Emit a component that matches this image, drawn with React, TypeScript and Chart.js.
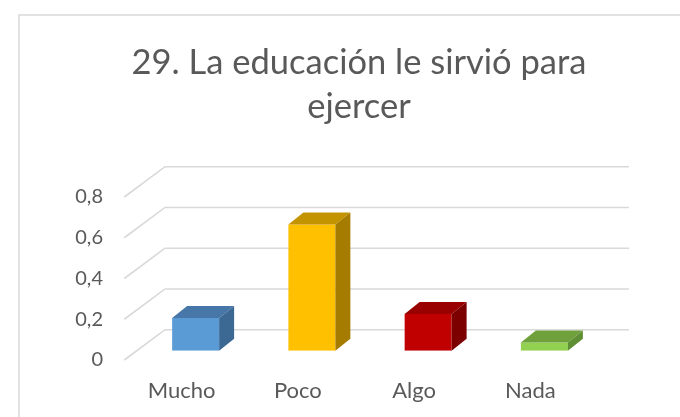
import React, { useEffect, useRef } from "react";
import { Chart, registerables } from "chart.js";

Chart.register(...registerables);

const titleLines = ["29. La educación le sirvió para", "ejercer"];
const categories = ["Mucho", "Poco", "Algo", "Nada"];
const values = [0.16, 0.62, 0.18, 0.04];
const yTicks = { min: 0, max: 0.8, step: 0.2 };
const frontColors = ["#5b9bd5", "#ffc000", "#c00000", "#92d050"];
const topColors = ["#4677a8", "#c49300", "#990000", "#70a03c"];
const sideColors = ["#3c6894", "#a67c00", "#7c0000", "#5f8f34"];

const DX = 15;
const DY = 12;

const borderPlugin = {
  id: "frameBorder",
  beforeDraw(chart: any) {
    const ctx = chart.ctx;
    ctx.save();
    ctx.fillStyle = "#ffffff";
    ctx.fillRect(0, 0, chart.width, chart.height);
    ctx.strokeStyle = "#d9d9d9";
    ctx.lineWidth = 1.5;
    ctx.strokeRect(19, 15, 900, 700);
    ctx.restore();
  },
};

const gridPlugin = {
  id: "grid3d",
  beforeDatasetsDraw(chart: any) {
    const ctx = chart.ctx;
    const ys = chart.scales.y;
    const area = chart.chartArea;
    ctx.save();
    ctx.strokeStyle = "#d9d9d9";
    ctx.lineWidth = 1.6;
    ys.ticks.forEach((t: any) => {
      const y = ys.getPixelForValue(t.value);
      ctx.beginPath();
      ctx.moveTo(area.left - 13.2, y + 9.3);
      ctx.lineTo(area.left + 27.5, y - 21);
      ctx.lineTo(area.right + 26.5, y - 21);
      ctx.stroke();
    });
    ctx.restore();
  },
};

const bar3dPlugin = {
  id: "bar3d",
  afterDatasetsDraw(chart: any) {
    const ctx = chart.ctx;
    const meta = chart.getDatasetMeta(0);
    ctx.save();
    meta.data.forEach((bar: any, i: number) => {
      const { x, y, base, width } = bar.getProps(["x", "y", "base", "width"], true);
      const l = x - width / 2;
      const r = x + width / 2;
      ctx.fillStyle = topColors[i];
      ctx.beginPath();
      ctx.moveTo(l, y);
      ctx.lineTo(l + DX, y - DY);
      ctx.lineTo(r + DX, y - DY);
      ctx.lineTo(r, y);
      ctx.closePath();
      ctx.fill();
      ctx.fillStyle = sideColors[i];
      ctx.beginPath();
      ctx.moveTo(r, y);
      ctx.lineTo(r + DX, y - DY);
      ctx.lineTo(r + DX, base - DY);
      ctx.lineTo(r, base);
      ctx.closePath();
      ctx.fill();
    });
    ctx.restore();
  },
};

export default function App() {
  const ref = useRef<HTMLCanvasElement | null>(null);
  useEffect(() => {
    if (!ref.current) return;
    const chart = new Chart(ref.current, {
      type: "bar",
      data: {
        labels: categories,
        datasets: [
          {
            data: values,
            backgroundColor: frontColors,
            borderWidth: 0,
            categoryPercentage: 1,
            barPercentage: 0.404,
          },
        ],
      },
      options: {
        animation: false,
        responsive: false,
        layout: { padding: { left: 38, right: 0, top: 0, bottom: 0 } },
        plugins: {
          legend: { display: false },
          tooltip: { enabled: false },
          title: {
            display: true,
            text: titleLines,
            color: "#595959",
            font: { family: "Lato", size: 34.5, weight: "normal", lineHeight: 1.3 },
            padding: { top: 40, bottom: 58 },
          },
        },
        scales: {
          x: {
            grid: { display: false, drawTicks: false },
            border: { display: false },
            ticks: {
              color: "#595959",
              font: { family: "Lato", size: 22 },
              padding: 27,
              labelOffset: -14,
              maxRotation: 0,
            },
            afterFit(scale: any) {
              scale.height = 66.3;
            },
          },
          y: {
            min: yTicks.min,
            max: yTicks.max,
            grid: { display: false, drawTicks: false },
            border: { display: false },
            ticks: {
              stepSize: yTicks.step,
              color: "#595959",
              font: { family: "Lato", size: 20 },
              padding: 34.5,
              labelOffset: 9.3,
              callback: (v: any) => String(Math.round(Number(v) * 10) / 10).replace(".", ","),
            },
            afterFit(scale: any) {
              scale.width = 99.5;
            },
          },
          yRight: {
            position: "right",
            display: true,
            grid: { display: false, drawTicks: false },
            border: { display: false },
            ticks: { display: false },
            afterFit(scale: any) {
              scale.width = 77.5;
            },
          },
        },
      },
      plugins: [borderPlugin, gridPlugin, bar3dPlugin],
    });
    return () => chart.destroy();
  }, []);
  return (
    <div style={{ position: "absolute", left: 0, top: 0, width: 680, height: 417 }}>
      <canvas ref={ref} width={680} height={417} style={{ display: "block" }} />
    </div>
  );
}
